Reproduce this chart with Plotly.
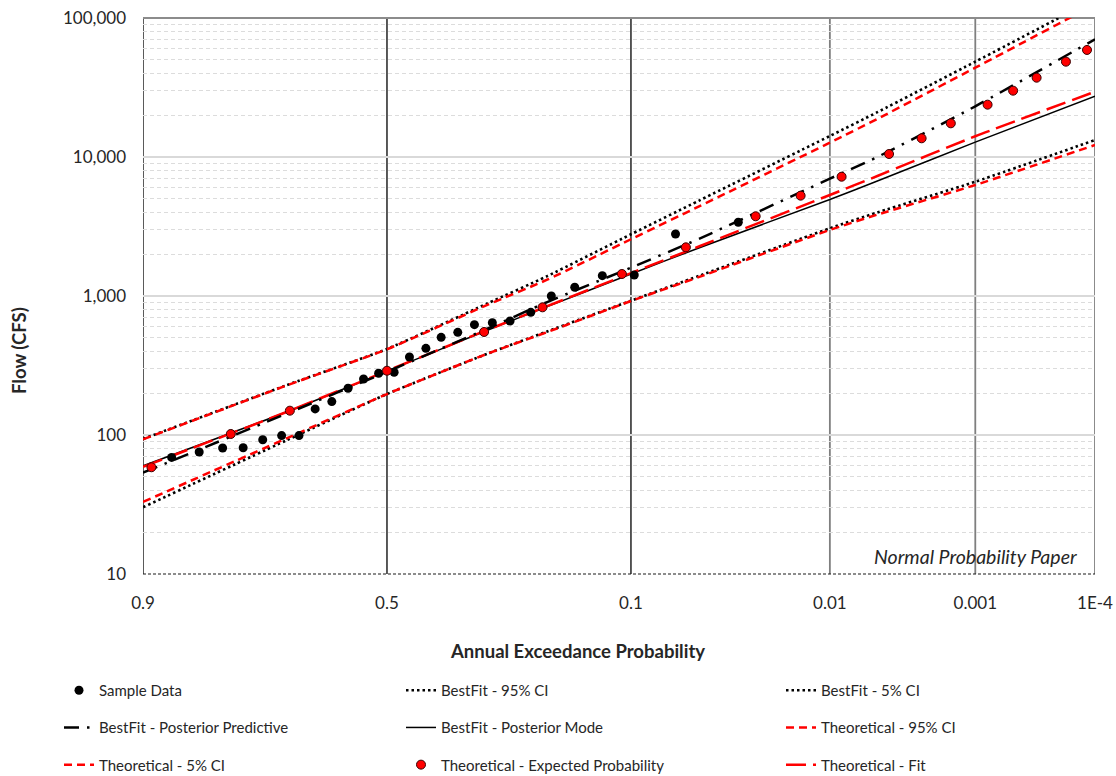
from statistics import NormalDist
import plotly.graph_objects as go

# ---------------- data ----------------
tick_aep = [0.9, 0.5, 0.1, 0.01, 0.001, 0.0001]
tick_labels = ["0.9", "0.5", "0.1", "0.01", "0.001", "1E-4"]
flow_ticks = [10, 100, 1000, 10000, 100000]
flow_tick_labels = ["10", "100", "1,000", "10,000", "100,000"]

curve_aep = [0.9, 0.7, 0.5, 0.3, 0.2, 0.1, 0.05, 0.01, 0.005, 0.001, 0.0001]
bestfit_95 = [93.6, 229, 416, 880, 1390, 2780, 4900, 14160, 21000, 48500, 137000]
bestfit_5 = [30.2, 92, 197, 383, 556, 925, 1405, 3070, 3990, 6640, 13250]
post_pred = [53.6, 143, 285, 579, 905, 1600, 2600, 6980, 10000, 23160, 70300]
post_mode = [60, 147, 288, 565, 838, 1440, 2235, 4950, 6720, 12800, 27400]
theo_95 = [93, 228, 414, 860, 1310, 2560, 4450, 12680, 18800, 43900, 125000]
theo_5 = [33, 95, 197, 383, 550, 920, 1380, 2985, 3850, 6290, 12200]
theo_fit = [59, 147, 289, 568, 845, 1460, 2290, 5330, 7300, 14100, 29500]

sample_aep = [0.871, 0.838, 0.806, 0.775, 0.743, 0.710, 0.678, 0.647, 0.614,
              0.581, 0.549, 0.5175, 0.485, 0.453, 0.419, 0.388, 0.355, 0.323,
              0.290, 0.259, 0.225, 0.194, 0.162, 0.129, 0.097, 0.0648, 0.0325]
sample_flow = [69, 75.5, 80.6, 81, 92.5, 99, 99, 154, 174,
               217, 253, 278, 283, 364, 420, 504, 548, 622,
               643, 661, 763, 1000, 1155, 1400, 1416, 2793, 3390]

exp_aep = [0.892, 0.794, 0.695, 0.5, 0.305, 0.207, 0.1086, 0.0582, 0.0264,
           0.0149, 0.00847, 0.00418, 0.00249, 0.00153, 0.000803, 0.000503,
           0.000322, 0.000181, 0.000118]
exp_flow = [58.6, 101.7, 149.6, 290, 551, 829, 1440, 2240, 3745,
            5270, 7215, 10510, 13630, 17470, 23800, 30000,
            37200, 48500, 58900]

# ---------------- probability scale ----------------
nd = NormalDist()


def zpos(p):
    return nd.inv_cdf(1 - p)


def zl(ps):
    return [zpos(p) for p in ps]


FONT = "Lato, Carlito, Calibri, 'Open Sans', sans-serif"
TXT = "#262626"

fig = go.Figure()

line_specs = [
    ("BestFit - 95% CI", bestfit_95, dict(color="black", width=2.6, dash="2.5px,3px"), "legend2", 1),
    ("BestFit - 5% CI", bestfit_5, dict(color="black", width=2.6, dash="2.5px,3px"), "legend3", 1),
    ("Theoretical - 95% CI", theo_95, dict(color="#ff0000", width=2.5, dash="8px,5px"), "legend3", 2),
    ("Theoretical - 5% CI", theo_5, dict(color="#ff0000", width=2.5, dash="8px,5px"), "legend", 3),
    ("BestFit - Posterior Mode", post_mode, dict(color="black", width=1.5), "legend2", 2),
    ("Theoretical - Fit", theo_fit, dict(color="#ff0000", width=2.5, dash="20px,7px"), "legend3", 3),
    ("BestFit - Posterior Predictive", post_pred, dict(color="black", width=2.5, dash="15px,8px,2.5px,8px"), "legend", 2),
]

for name, vals, ln, lg, rank in line_specs:
    fig.add_trace(go.Scatter(
        x=zl(curve_aep), y=vals, mode="lines", name=name,
        line=dict(shape="spline", smoothing=0.6, **ln),
        legend=lg, legendgroup=name, legendrank=rank,
    ))

fig.add_trace(go.Scatter(
    x=zl(sample_aep), y=sample_flow, mode="markers", name="Sample Data",
    marker=dict(color="black", size=9, line=dict(width=0)),
    legend="legend", legendgroup="Sample Data", legendrank=1,
))
fig.add_trace(go.Scatter(
    x=zl(exp_aep), y=exp_flow, mode="markers", name="Theoretical - Expected Probability",
    marker=dict(color="#ff0000", size=9, line=dict(width=1, color="#3a0000")),
    legend="legend2", legendgroup="Theoretical - Expected Probability", legendrank=3,
))

# ---------------- frame / gridlines ----------------
x_lo, x_hi = zpos(tick_aep[0]), zpos(tick_aep[-1])
shapes = []
for p in tick_aep:
    dark = p in (0.9, 0.5, 0.1)
    shapes.append(dict(type="line", xref="x", yref="paper", x0=zpos(p), x1=zpos(p), y0=0, y1=1,
                       line=dict(color="#000000" if dark else "#7f7f7f", width=1.3 if dark else 1.8),
                       layer="between"))
shapes.append(dict(type="line", xref="paper", yref="paper", x0=0, x1=1, y0=1, y1=1,
                   line=dict(color="#8c8c8c", width=2), layer="between"))
shapes.append(dict(type="line", xref="paper", yref="paper", x0=0, x1=1, y0=0, y1=0,
                   line=dict(color="#1a1a1a", width=1.2, dash="3px,2px"), layer="between"))
fig.update_layout(shapes=shapes)

minor_vals = [m * d for d in (10, 100, 1000, 10000) for m in range(2, 10)]

fig.update_xaxes(
    range=[x_lo, x_hi], tickmode="array", tickvals=zl(tick_aep), ticktext=tick_labels,
    showgrid=False, zeroline=False, showline=False, ticks="", tickangle=0, automargin=False,
    tickfont=dict(size=17, color=TXT, family=FONT), ticklabelstandoff=17,
)
fig.update_yaxes(
    type="log", range=[1, 5], tickmode="array", tickvals=flow_ticks, ticktext=flow_tick_labels,
    showgrid=True, gridcolor="#d9d9d9", gridwidth=1.5, zeroline=False, showline=False, ticks="",
    automargin=False,
    minor=dict(tickmode="array", tickvals=minor_vals, showgrid=True, gridcolor="#dcdcdc",
               gridwidth=1, griddash="4px,3px", ticks=""),
    tickfont=dict(size=17, color=TXT, family=FONT), ticklabelstandoff=16,
)

W, H = 1116, 776
L, R, T, B = 143, 21, 18, 202
pw, ph = W - L - R, H - T - B


def px_x(x):
    return (x - L) / pw


def px_y(y):
    return (H - B - y) / ph


annotations = [
    dict(text="<b>Annual Exceedance Probability</b>", xref="paper", yref="paper",
         x=px_x(577), y=px_y(651), xanchor="center", yanchor="middle", showarrow=False,
         font=dict(size=18.5, color=TXT, family=FONT)),
    dict(text="<b>Flow (CFS)</b>", xref="paper", yref="paper", textangle=-90,
         x=px_x(19), y=px_y(350), xanchor="center", yanchor="middle", showarrow=False,
         font=dict(size=18.5, color=TXT, family=FONT)),
    dict(text="<i>Normal Probability Paper</i>", xref="paper", yref="paper",
         x=px_x(1079), y=px_y(556), xanchor="right", yanchor="middle", showarrow=False,
         font=dict(size=19.5, color=TXT, family=FONT)),
]

leg_common = dict(orientation="v", xref="container", yref="container", xanchor="left", yanchor="top",
                  bgcolor="rgba(0,0,0,0)", borderwidth=0, tracegroupgap=14.7, traceorder="grouped",
                  font=dict(size=15, color=TXT, family=FONT), itemwidth=30)
leg_top = 1 - 674 / H

fig.update_layout(
    width=W, height=H, margin=dict(l=L, r=R, t=T, b=B, autoexpand=False),
    paper_bgcolor="white", plot_bgcolor="white",
    font=dict(family=FONT, color=TXT),
    annotations=annotations,
    showlegend=True,
    legend=dict(x=59 / W, y=leg_top, **leg_common),
    legend2=dict(x=401 / W, y=leg_top, **leg_common),
    legend3=dict(x=781 / W, y=leg_top, **leg_common),
)

fig.write_html("out.html")
